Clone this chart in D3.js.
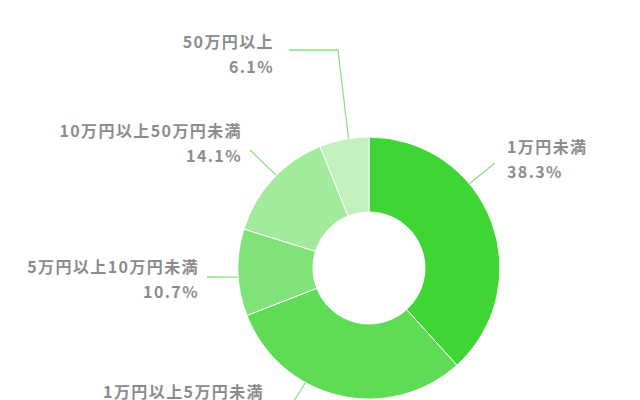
<!DOCTYPE html>
<html>
<head>
<meta charset="utf-8">
<script src="https://cdn.jsdelivr.net/npm/d3@7"></script>
<style>
  body { margin: 0; background: #fff; }
  svg { display: block; }
  .lbl { font-family: "Noto Sans CJK JP", sans-serif; font-weight: 700; fill: #8c8c8c; font-size: 16px; letter-spacing: 1.4px; }
</style>
</head>
<body>
<svg></svg>
<script>
// data
var categories = ["1万円未満", "1万円以上5万円未満", "5万円以上10万円未満", "10万円以上50万円未満", "50万円以上"];
var shares = [38.3, 30.8, 10.7, 14.1, 6.1];
var shareLabels = ["38.3%", "30.8%", "10.7%", "14.1%", "6.1%"];
var colors = ["#3ed535", "#5edc56", "#80e379", "#a2ea9c", "#c3f1be"];

// label layout (angle on the ring in degrees, then where the leader line goes)
var labelLayout = [
    {angle: 50,  pts: [[495, 163]],            tx: 507, ty: 147, anchor: "start"},
    {angle: 209, pts: [[292, 404]],            tx: 264, ty: 392, anchor: "end"},
    {angle: 266, pts: [[207, 277]],            tx: 199, ty: 267, anchor: "end"},
    {angle: 315, pts: [[250, 150]],            tx: 242, ty: 131, anchor: "end"},
    {angle: 351, pts: [[338, 50], [289, 50]],  tx: 274, ty: 42,  anchor: "end"}
];

var width = 640;
var height = 400;
var cx = 369, cy = 268;
var outerR = 131, innerR = 56;

var svg = d3.select("svg")
    .attr("width", width)
    .attr("height", height);

var pie = d3.pie()
    .sort(null)
    .value(function(d){ return d; });

var arc = d3.arc()
    .innerRadius(innerR)
    .outerRadius(outerR);

var g = svg.append("g")
    .attr("transform", "translate(" + cx + "," + cy + ")");

var arcs = pie(shares);

//slices
g.selectAll("path.slice")
    .data(arcs)
    .enter()
    .append("path")
    .attr("class", "slice")
    .attr("d", arc)
    .attr("fill", function(d, i){ return colors[i]; })
    .attr("stroke", "#fff")
    .attr("stroke-width", 1);

//leader lines
var line = d3.line();
svg.selectAll("path.leader")
    .data(labelLayout)
    .enter()
    .append("path")
    .attr("class", "leader")
    .attr("d", function(d){
        var a = d.angle * Math.PI / 180;
        var start = [cx + outerR * Math.sin(a), cy - outerR * Math.cos(a)];
        return line([start].concat(d.pts));
    })
    .attr("fill", "none")
    .attr("stroke", "#8fdf88")
    .attr("stroke-width", 1.3);

//labels
var labels = svg.selectAll("text.lbl")
    .data(labelLayout)
    .enter()
    .append("text")
    .attr("class", "lbl")
    .attr("text-anchor", function(d){ return d.anchor; })
    .attr("x", function(d){ return d.tx; })
    .attr("y", function(d){ return d.ty; });

labels.append("tspan")
    .attr("x", function(d){ return d.tx; })
    .attr("dy", "0.35em")
    .text(function(d, i){ return categories[i]; });

labels.append("tspan")
    .attr("x", function(d){ return d.tx; })
    .attr("dy", 25)
    .text(function(d, i){ return shareLabels[i]; });
</script>
</body>
</html>
